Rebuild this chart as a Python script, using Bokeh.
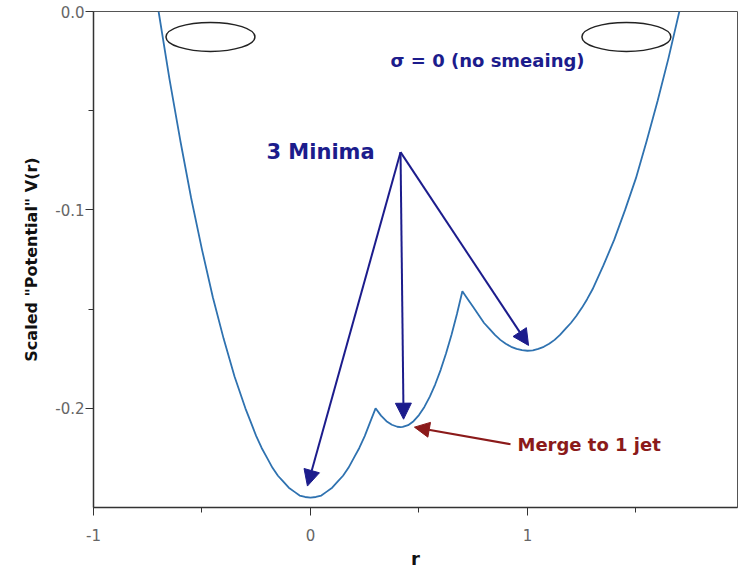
from bokeh.plotting import figure
from bokeh.models import Arrow, NormalHead, Label, Range1d, FixedTicker, NumeralTickFormatter
from bokeh.embed import file_html
from bokeh.resources import INLINE

# ---- data ----
r_vals = [-0.70, -0.65, -0.60, -0.55, -0.50, -0.45, -0.40, -0.35, -0.30, -0.275,
          -0.25, -0.225, -0.20, -0.175, -0.15, -0.125, -0.10, -0.075, -0.05, -0.025,
          0.00, 0.025, 0.05, 0.075, 0.10, 0.125, 0.15, 0.175, 0.20, 0.225, 0.25, 0.275, 0.30,
          0.325, 0.35, 0.375, 0.40, 0.415, 0.425, 0.45, 0.475, 0.50, 0.525, 0.55, 0.575,
          0.60, 0.625, 0.65, 0.675, 0.70,
          0.725, 0.75, 0.775, 0.80, 0.825, 0.85, 0.875, 0.90, 0.925, 0.95, 0.975, 1.00,
          1.025, 1.05, 1.075, 1.10, 1.125, 1.15, 1.175, 1.20, 1.225, 1.25, 1.275, 1.30,
          1.35, 1.40, 1.45, 1.50, 1.55, 1.60, 1.65, 1.70]
v_vals = [0.000, -0.034, -0.065, -0.094, -0.120, -0.144, -0.165, -0.184, -0.200, -0.207,
          -0.214, -0.220, -0.225, -0.230, -0.234, -0.237, -0.240, -0.242, -0.244, -0.2447,
          -0.245, -0.2447, -0.244, -0.242, -0.240, -0.237, -0.234, -0.230, -0.225, -0.220, -0.214, -0.207, -0.200,
          -0.2037, -0.2065, -0.2083, -0.2093, -0.2095, -0.2094, -0.2085, -0.2065, -0.2034, -0.1993, -0.1941, -0.1879,
          -0.1806, -0.1723, -0.1629, -0.1525, -0.141,
          -0.145, -0.149, -0.153, -0.157, -0.160, -0.163, -0.1655, -0.1675, -0.169, -0.170, -0.1707, -0.171,
          -0.1708, -0.170, -0.169, -0.1675, -0.1655, -0.163, -0.160, -0.157, -0.1535, -0.1495, -0.145, -0.140,
          -0.128, -0.115, -0.100, -0.084, -0.065, -0.045, -0.0235, 0.000]

x_major = [-1, 0, 1]
x_minor = [-0.5, 0.5, 1.5]
y_major = [-0.2, -0.1, 0.0]
y_minor = [-0.15, -0.05]

# annotation anchors (data coordinates)
ell_x = [-0.461, 1.456]
ell_y = [-0.0128, -0.0128]
arrow_start = (0.415, -0.0709)
arrow_ends = [(-0.014, -0.2392), (0.429, -0.2055), (1.005, -0.1683)]
red_start = (0.922, -0.2181)
red_end = (0.479, -0.2095)

NAVY = "#1c1c8c"
DARKRED = "#8b1a1a"
CURVE = "#2f72b0"
FONT = "DejaVu Sans"

p = figure(width=746, height=571, output_backend="svg", toolbar_location=None,
           x_range=Range1d(-1.0, 1.968), y_range=Range1d(-0.25, 0.0),
           min_border_left=93, min_border_right=9, min_border_top=11, min_border_bottom=63)
p.background_fill_color = "white"
p.border_fill_color = "white"
p.outline_line_color = "#555555"
p.outline_line_width = 1
p.xgrid.visible = False
p.ygrid.visible = False

# curve
p.line(r_vals, v_vals, line_color=CURVE, line_width=1.8)

# ellipses
p.ellipse(x=ell_x, y=ell_y, width=0.41, height=0.0146, fill_color=None,
          line_color="#222222", line_width=1.5)

# navy arrows
for (xe, ye) in arrow_ends:
    p.add_layout(Arrow(end=NormalHead(size=16, fill_color=NAVY, line_color=NAVY),
                       x_start=arrow_start[0], y_start=arrow_start[1], x_end=xe, y_end=ye,
                       line_color=NAVY, line_width=2))
# red arrow
p.add_layout(Arrow(end=NormalHead(size=15, fill_color=DARKRED, line_color=DARKRED),
                   x_start=red_start[0], y_start=red_start[1], x_end=red_end[0], y_end=red_end[1],
                   line_color=DARKRED, line_width=2))

# labels
p.add_layout(Label(x=-0.203, y=-0.0709, text="3 Minima", text_font=FONT, text_font_style="bold",
                   text_font_size="21px", text_color=NAVY, text_baseline="middle", text_align="left"))
p.add_layout(Label(x=0.369, y=-0.0246, text="σ = 0 (no smeaing)", text_font=FONT, text_font_style="bold",
                   text_font_size="18px", text_color=NAVY, text_baseline="middle", text_align="left"))
p.add_layout(Label(x=0.954, y=-0.218, text="Merge to 1 jet", text_font=FONT, text_font_style="bold",
                   text_font_size="18px", text_color=DARKRED, text_baseline="middle", text_align="left"))

# axes
p.xaxis.ticker = FixedTicker(ticks=x_major, minor_ticks=x_minor)
p.yaxis.ticker = FixedTicker(ticks=y_major, minor_ticks=y_minor)
p.xaxis.formatter = NumeralTickFormatter(format="0")
p.yaxis.formatter = NumeralTickFormatter(format="0.0")
p.xaxis.axis_label = "r"
p.yaxis.axis_label = 'Scaled "Potential" V(r)'
for ax in (p.xaxis, p.yaxis):
    ax.axis_line_color = "#333333"
    ax.axis_line_width = 1.5
    ax.major_tick_line_color = "#333333"
    ax.minor_tick_line_color = "#333333"
    ax.major_tick_in = 0
    ax.minor_tick_in = 0
    ax.major_tick_out = 8
    ax.minor_tick_out = 5
    ax.major_label_text_font = FONT
    ax.major_label_text_font_size = "15px"
    ax.major_label_text_color = "#666666"
    ax.axis_label_text_font = FONT
    ax.axis_label_text_font_style = "bold"
    ax.axis_label_text_color = "#111111"
p.xaxis.major_label_standoff = 13
p.xaxis.axis_label_standoff = 4
p.xaxis.axis_label_text_font_size = "18px"
p.yaxis.major_label_standoff = 1
p.yaxis.axis_label_standoff = 11
p.yaxis.axis_label_text_font_size = "16px"

open("out.html", "w").write(file_html(p, INLINE))
